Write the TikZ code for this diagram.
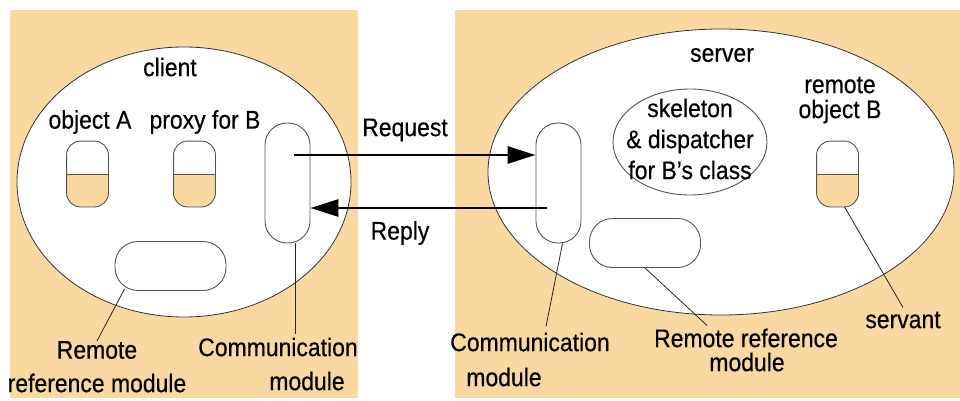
\documentclass[tikz,border=0pt]{standalone}
\usepackage{fontspec}
\setmainfont[FakeStretch=0.9,FakeBold=0.4]{Liberation Sans}
\usetikzlibrary{arrows.meta,shapes.geometric}
\definecolor{tan}{RGB}{250,216,162}
\definecolor{edge}{RGB}{85,85,85}
\begin{document}
\begin{tikzpicture}[x=1pt,y=-1pt,
  lbl/.style={font=\fontsize{25.5}{31}\selectfont, inner sep=0pt, align=center},
  shell/.style={draw=black!80, line width=0.8pt, fill=white, ellipse, inner sep=0pt},
  objbox/.style={draw=edge, line width=0.9pt, minimum width=41pt, minimum height=65pt,
     rounded corners=14pt, inner sep=0pt},
  commbox/.style={draw=edge, line width=0.9pt, fill=white, minimum width=45pt, minimum height=120pt,
     rounded corners=22pt, inner sep=0pt},
  refbox/.style={draw=edge, line width=0.9pt, fill=white, minimum width=111pt, minimum height=49pt,
     rounded corners=23pt, inner sep=0pt},
  conn/.style={draw=black!85, line width=0.8pt},
  arr/.style={line width=2.8pt, -{Triangle[length=28pt,width=17pt]}}
]
\useasboundingbox (0,0) rectangle (960,401);
\fill[white] (0,0) rectangle (960,401);
\fill[tan] (10,10) rectangle (358,398);
\fill[tan] (455,10) rectangle (960,398);

% client side
\node[shell, minimum width=334pt, minimum height=270pt] (clientshell) at (184,182) {};
\node[lbl] (clientlab) at (170,67) {client};
\node[lbl] (objAlab) at (90,122) {object A};
\node[lbl] (proxylab) at (205,122) {proxy for B};
\node[objbox] (objA) at (87.5,174) {};
\node[objbox] (proxy) at (194.5,174) {};
\node[commbox] (cmL) at (287.5,183) {};
\node[refbox] (rrL) at (170.5,266) {};
\node[lbl] (remL) at (97,350) {Remote};
\node[lbl] (remL2) at (97,383) {reference module};
\node[lbl] (commL) at (278,347) {Communication};
\node[lbl] (commL2) at (307,381) {module};

% server side
\node[shell, minimum width=466pt, minimum height=286pt] (servershell) at (721,172) {};
\node[lbl] (serverlab) at (722,55) {server};
\node[draw=edge, line width=0.9pt, fill=white, ellipse, minimum width=154pt, minimum height=106pt, inner sep=0pt] (skel) at (690,142) {};
\node[lbl] (skeltext) at (690,139) {skeleton\\\& dispatcher\\for B’s class};
\node[lbl, font=\fontsize{25.5}{25}\selectfont] (objBlab) at (840,100) {remote\\object B};
\node[objbox] (objB) at (837.5,174) {};
\node[commbox] (cmR) at (558.5,183) {};
\node[refbox] (rrR) at (645,243) {};
\node[lbl] (commR) at (530,342) {Communication};
\node[lbl] (commR2) at (504,377) {module};
\node[lbl] (rrRlab) at (746,338) {Remote reference};
\node[lbl] (rrRlab2) at (747,362) {module};
\node[lbl] (servantlab) at (903,320) {servant};

% object capsules: white top half, tan bottom half
\foreach \o in {objA,proxy,objB}{
  \begin{scope}
    \clip[rounded corners=14pt] (\o.south west) rectangle (\o.north east);
    \fill[white] (\o.north west) rectangle (\o.east);
    \fill[tan] (\o.west) rectangle (\o.south east);
  \end{scope}
  \draw[edge, line width=0.9pt] (\o.west) -- (\o.east);
  \draw[edge, line width=0.9pt, rounded corners=14pt] (\o.south west) rectangle (\o.north east);
}

% messages
\node[lbl] (reqlab) at (405,130) {Request};
\node[lbl] (replab) at (400,233) {Reply};
\draw[arr] ([shift={(6pt,28pt)}]cmL.center) -- ([yshift=28pt]cmR.west);
\draw[arr] ([shift={(-12pt,-25pt)}]cmR.center) -- ([yshift=-25pt]cmL.east);

% leaders
\draw[conn] ([shift={(10pt,2pt)}]rrL.south west) -- (remL.north);
\draw[conn] ([xshift=7.5pt]cmL.south) -- ([xshift=7.5pt,yshift=3pt]cmL.south |- commL.north);
\draw[conn] ([xshift=4pt]cmR.south) -- ([shift={(16pt,6pt)}]commR.north);
\draw[conn] (rrR.south) -- ([shift={(-39pt,3pt)}]rrRlab.north);
\draw[conn] ([xshift=7pt]objB.south) -- ([yshift=4pt]servantlab.north);
\end{tikzpicture}
\end{document}
